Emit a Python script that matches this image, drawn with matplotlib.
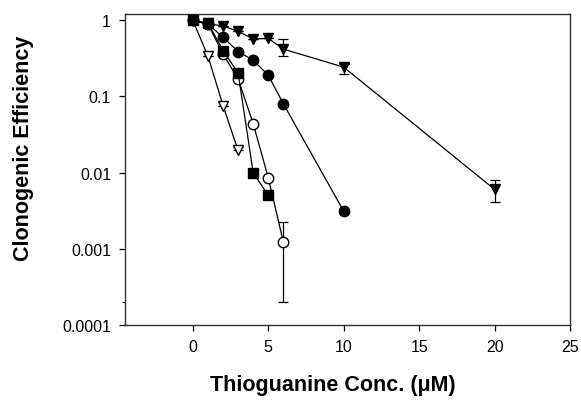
import numpy as np
import matplotlib
matplotlib.use("Agg")
import matplotlib.pyplot as plt

plt.rcParams['font.family'] = ['Liberation Sans', 'DejaVu Sans']

# filled down-triangles
tri_x = [0, 1, 2, 3, 4, 5, 6, 10, 20]
tri_y = [1.0, 0.9, 0.85, 0.72, 0.57, 0.58, 0.42, 0.243, 0.006]
tri_lo = [0, 0, 0, 0, 0, 0, 0.08, 0.043, 0.0019]
tri_hi = [0, 0, 0, 0, 0, 0, 0.15, 0.027, 0.002]

# filled circles
circ_x = [0, 1, 2, 3, 4, 5, 6, 10]
circ_y = [1.0, 0.9, 0.6, 0.39, 0.30, 0.19, 0.08, 0.0031]

# filled squares
sq_x = [0, 1, 2, 3, 4, 5]
sq_y = [1.0, 0.93, 0.40, 0.204, 0.0099, 0.005]
sq_lo = [0, 0, 0, 0, 0, 0]
sq_hi = [0, 0.15, 0, 0, 0, 0]

# open circles
ocirc_x = [0, 1, 2, 3, 4, 5, 6]
ocirc_y = [1.0, 0.9, 0.36, 0.17, 0.044, 0.0085, 0.00122]
ocirc_lo = [0, 0, 0, 0, 0, 0, 0.00102]
ocirc_hi = [0, 0, 0, 0, 0, 0, 0.001]

# open down-triangles
otri_x = [0, 1, 2, 3]
otri_y = [1.0, 0.34, 0.076, 0.0195]
otri_lo = [0, 0, 0, 0]
otri_hi = [0, 0, 0, 0.002]

fig = plt.figure(figsize=(5.81, 4.02), dpi=100)
ax = fig.add_axes([0.2151, 0.190, 0.766, 0.773])

lw = 0.9
ms = 7.5
common = dict(color='black', linewidth=lw, capsize=3.5, elinewidth=lw, capthick=lw)

ax.errorbar(ocirc_x, ocirc_y, yerr=[ocirc_lo, ocirc_hi], marker='o', markersize=ms,
            markerfacecolor='white', markeredgecolor='black', zorder=2, **common)
ax.errorbar(otri_x, otri_y, yerr=[otri_lo, otri_hi], marker='v', markersize=ms,
            markerfacecolor='white', markeredgecolor='black', zorder=2, **common)
ax.plot(circ_x, circ_y, color='black', linewidth=lw, marker='o', markersize=ms, zorder=3)
ax.errorbar(sq_x, sq_y, yerr=[sq_lo, sq_hi], marker='s', markersize=ms - 0.5, zorder=4, **common)
ax.errorbar(tri_x, tri_y, yerr=[tri_lo, tri_hi], marker='v', markersize=ms, zorder=5, **common)

ax.set_yscale('log')
ax.set_ylim(0.0001, 1.22)
ax.set_xlim(-4.5, 25)
ax.set_xticks([0, 5, 10, 15, 20, 25])
ax.set_yticks([0.0001, 0.001, 0.01, 0.1, 1])
ax.set_yticklabels(['0.0001', '0.001', '0.01', '0.1', '1'])
ax.yaxis.set_minor_locator(matplotlib.ticker.FixedLocator([0.0002]))
ax.yaxis.set_minor_formatter(matplotlib.ticker.NullFormatter())
ax.tick_params(axis='both', direction='out', length=4, width=0.9, labelsize=11.5, pad=6)
ax.tick_params(axis='y', which='minor', length=2.5, width=0.8)
for s in ax.spines.values():
    s.set_linewidth(1.0)
    s.set_color('#333333')

ax.set_xlabel('Thioguanine Conc. (\u03bcM)', fontsize=15.5, fontweight='bold', va='center')
ax.set_ylabel('Clonogenic Efficiency', fontsize=15.5, fontweight='bold', va='center')
ax.xaxis.set_label_coords(0.466, -0.192)
ax.yaxis.set_label_coords(-0.229, 0.57)

fig.savefig('out.png', dpi=100)
